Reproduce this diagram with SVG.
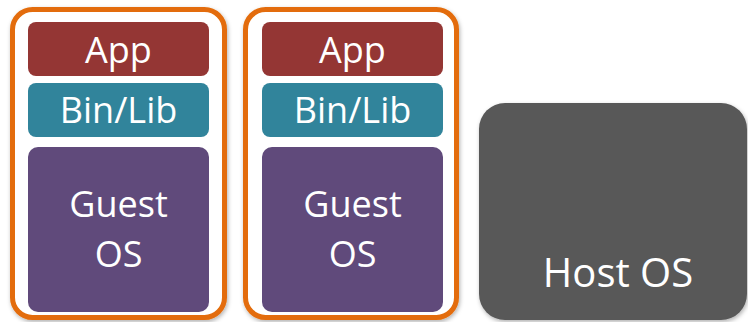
<svg xmlns="http://www.w3.org/2000/svg" width="748" height="322" viewBox="0 0 748 322">
  <defs>
    <filter id="soft" x="-10%" y="-10%" width="120%" height="120%">
      <feDropShadow dx="1" dy="2" stdDeviation="2" flood-color="#000" flood-opacity="0.3"/>
    </filter>
  </defs>
  <style>
    .vm { fill: #ffffff; stroke: #E36C09; stroke-width: 5; filter: url(#soft); }
    .app { fill: #943634; }
    .lib { fill: #31849B; }
    .guest { fill: #604A7B; }
    .host { fill: #595959; filter: url(#soft); }
    text { font-family: "Open Sans", "Noto Sans", "DejaVu Sans", sans-serif; font-size: 36px; fill: #ffffff; text-anchor: middle; }
    .big { font-size: 40px; }
  </style>
  <rect width="748" height="322" fill="#ffffff"/>

  <!-- virtual machine 1 -->
  <g id="vm1">
    <rect class="vm" x="12.5" y="9.5" width="212" height="308" rx="20"/>
    <g id="vm1-app">
      <rect class="app" x="28" y="22" width="181" height="54" rx="8"/>
      <text x="118.5" y="63">App</text>
    </g>
    <g id="vm1-lib">
      <rect class="lib" x="28" y="83" width="181" height="54" rx="8"/>
      <text x="118.5" y="123">Bin/Lib</text>
    </g>
    <g id="vm1-guest">
      <rect class="guest" x="28" y="147" width="181" height="165" rx="10"/>
      <text x="118.5" y="217">Guest</text>
      <text x="118.5" y="267">OS</text>
    </g>
  </g>

  <!-- virtual machine 2 -->
  <g id="vm2">
    <rect class="vm" x="245.5" y="9.5" width="211" height="308" rx="20"/>
    <g id="vm2-app">
      <rect class="app" x="262" y="22" width="181" height="54" rx="8"/>
      <text x="352.5" y="63">App</text>
    </g>
    <g id="vm2-lib">
      <rect class="lib" x="262" y="83" width="181" height="54" rx="8"/>
      <text x="352.5" y="123">Bin/Lib</text>
    </g>
    <g id="vm2-guest">
      <rect class="guest" x="262" y="147" width="181" height="165" rx="10"/>
      <text x="352.5" y="217">Guest</text>
      <text x="352.5" y="267">OS</text>
    </g>
  </g>

  <!-- host operating system -->
  <g id="host">
    <rect class="host" x="479" y="103" width="268" height="217" rx="26"/>
    <text class="big" x="618" y="287">Host OS</text>
  </g>

  <g id="connectors"/>
</svg>
